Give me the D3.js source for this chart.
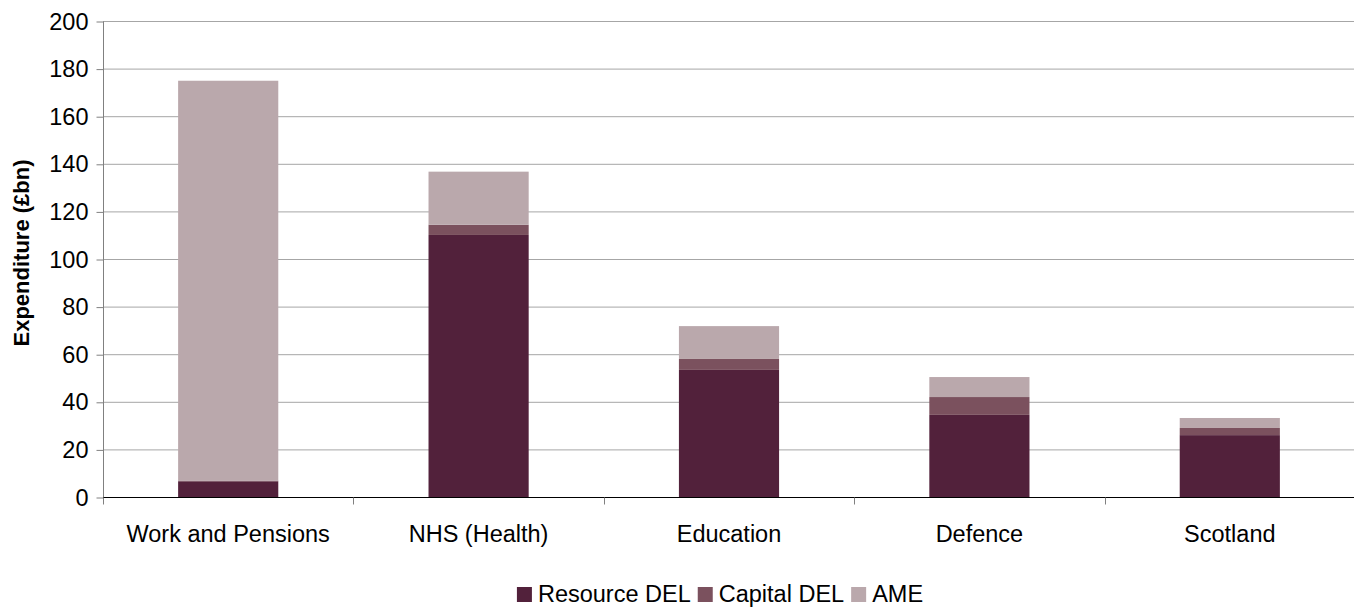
<!DOCTYPE html>
<html>
<head>
<meta charset="utf-8">
<script src="https://cdn.jsdelivr.net/npm/d3@7"></script>
<style>
  body { margin: 0; background: #fff; }
  svg { display: block; font-family: "Liberation Sans", Arial, sans-serif; }
</style>
</head>
<body>
<svg id="chart" width="1354" height="607"></svg>
<script>
// data
var categories = ['Work and Pensions', 'NHS (Health)', 'Education', 'Defence', 'Scotland'];
var seriesNames = ['Resource DEL', 'Capital DEL', 'AME'];
var resourceDEL = [6.6, 110.1, 53.4, 34.5, 26.0];
var capitalDEL = [0.3, 4.3, 4.6, 7.5, 3.0];
var ame = [168.0, 22.3, 13.8, 8.4, 4.2];
var yTicks = [0, 20, 40, 60, 80, 100, 120, 140, 160, 180, 200];
var colors = ['#52213b', '#7b515e', '#baa8ac'];

var svg = d3.select('#chart');
var margin = {left: 103, right: -1, top: 21, bottom: 110};
var width = 1354, height = 607;
var fontSize = 23.5;

var rows = categories.map(function (c, i) {
  return {cat: c, 'Resource DEL': resourceDEL[i], 'Capital DEL': capitalDEL[i], 'AME': ame[i]};
});
var stacked = d3.stack().keys(seriesNames)(rows);

var xScale = d3.scaleBand()
  .domain(categories)
  .range([margin.left, width - margin.right])
  .paddingInner(0.6)
  .paddingOuter(0.3);

var yScale = d3.scaleLinear()
  .domain([0, 200])
  .range([height - margin.bottom, margin.top]);

// horizontal grids
svg.append('g').attr('class', 'grid')
  .selectAll('line')
  .data(yTicks.filter(function (d) { return d > 0; }))
  .join('line')
  .attr('x1', margin.left)
  .attr('x2', width)
  .attr('y1', function (d) { return yScale(d) + 0.5; })
  .attr('y2', function (d) { return yScale(d) + 0.5; })
  .attr('stroke', '#a6a6a6')
  .attr('stroke-width', 1);

// bars
svg.append('g').selectAll('g')
  .data(stacked)
  .join('g')
  .attr('fill', function (d, i) { return colors[i]; })
  .selectAll('rect')
  .data(function (d) { return d; })
  .join('rect')
  .attr('x', function (d) { return xScale(d.data.cat); })
  .attr('width', xScale.bandwidth())
  .attr('y', function (d) { return yScale(d[1]); })
  .attr('height', function (d) { return yScale(d[0]) - yScale(d[1]); });

// y axis
var yAxis = svg.append('g')
  .attr('transform', 'translate(' + (margin.left + 0.5) + ',0.5)')
  .call(d3.axisLeft(yScale).tickValues(yTicks).tickSize(7).tickPadding(8));
yAxis.select('.domain').attr('stroke', '#808080').attr('d', 'M0,' + yScale(200) + 'V' + yScale(0));
yAxis.selectAll('.tick line').attr('stroke', '#808080');
yAxis.selectAll('.tick text')
  .attr('font-size', fontSize)
  .attr('fill', '#000')
  .attr('font-family', '"Liberation Sans", Arial, sans-serif');

// x axis line and category separators
var base = yScale(0) + 0.5;
var catStep = (width - margin.right - margin.left) / categories.length;
svg.append('line')
  .attr('x1', margin.left).attr('x2', width)
  .attr('y1', base).attr('y2', base)
  .attr('stroke', '#000').attr('stroke-width', 1);
svg.append('g').selectAll('line')
  .data(d3.range(categories.length))
  .join('line')
  .attr('x1', function (i) { return Math.round(margin.left + i * catStep) + 0.5; })
  .attr('x2', function (i) { return Math.round(margin.left + i * catStep) + 0.5; })
  .attr('y1', base).attr('y2', base + 7)
  .attr('stroke', '#808080');

svg.append('g').selectAll('text')
  .data(categories)
  .join('text')
  .attr('x', function (d) { return xScale(d) + xScale.bandwidth() / 2; })
  .attr('y', base + 44)
  .attr('text-anchor', 'middle')
  .attr('font-size', fontSize)
  .text(function (d) { return d; });

// y axis title
svg.append('text')
  .attr('transform', 'translate(29,253) rotate(-90)')
  .attr('text-anchor', 'middle')
  .attr('font-size', 22)
  .attr('font-weight', 'bold')
  .text('Expenditure (£bn)');

// legend
var legend = svg.append('g');
var lx = 0;
var items = legend.selectAll('g')
  .data(seriesNames)
  .join('g');
items.append('rect')
  .attr('width', 15).attr('height', 15)
  .attr('y', -15)
  .attr('fill', function (d, i) { return colors[i]; });
items.append('text')
  .attr('x', 21)
  .attr('font-size', fontSize)
  .text(function (d) { return d; });
items.each(function () {
  var g = d3.select(this);
  g.attr('transform', 'translate(' + lx + ',0)');
  lx += this.getBBox().width + 7;
});
legend.attr('transform', 'translate(' + ((width - (lx - 7)) / 2 + 43) + ',602)');
</script>
</body>
</html>
